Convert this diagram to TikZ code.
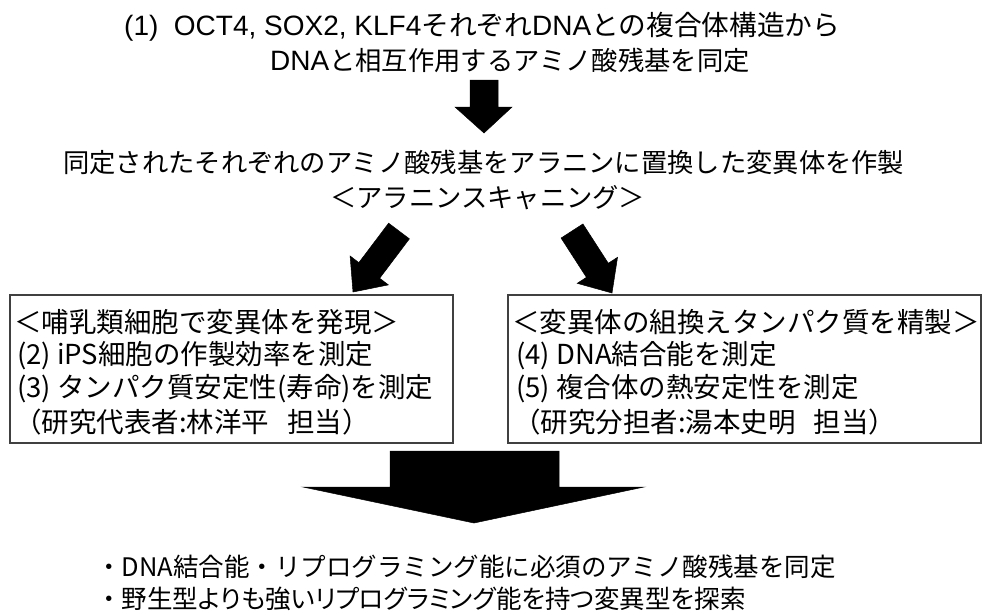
\documentclass[tikz,border=0pt]{standalone}
\usepackage{fontspec}
\setmainfont{Noto Sans CJK JP}
\newfontfamily\latf{Liberation Sans}
\usetikzlibrary{calc}
\tikzset{
  txt/.style={anchor=west, inner sep=0pt, font=\fontsize{26.3}{33}\selectfont},
  boxtxt/.style={anchor=west, inner sep=0pt, font=\fontsize{27.5}{33}\selectfont},
  bottxt/.style={anchor=west, inner sep=0pt, font=\fontsize{25.5}{33}\selectfont},
  blk/.style={fill=black, draw=black, line width=0.5pt, line join=miter},
  boxst/.style={draw=black!75, line width=1.4pt, fill=none}
}
\newcommand{\lt}[1]{{\latf\fontsize{28}{33}\selectfont #1}}
\newcommand{\pk}[1]{{\addfontfeature{RawFeature=+palt}#1}}
\begin{document}
\begin{tikzpicture}[x=1pt,y=-1pt]
\useasboundingbox (0,0) rectangle (982,614);
% top text
\node[txt, font=\fontsize{27.7}{33}\selectfont] (l1) at (124,27) {\lt{(1)\ \ OCT4, SOX2, KLF4}それぞれ\lt{DNA}との複合体構造から};
\node[txt] (l2) at (270,60) {\lt{DNA}と相互作用するアミノ酸残基を同定};
% arrow 1
\fill[blk] (470,80) -- (498,80) -- (498,107) -- (512,107) -- (484,133) -- (455,107) -- (470,107) -- cycle;
% middle text
\node[txt] (l3) at (63,162) {同定されたそれぞれのアミノ酸残基をアラニンに置換した変異体を作製};
\node[txt] (l4) at (330,198) {＜アラニンスキャニング＞};
% diagonal arrows
\coordinate (Ta) at (399,231); \coordinate (Pa) at (353,292);
\coordinate (Tb) at (572,231); \coordinate (Pb) at (612,293);
\foreach \T/\P in {Ta/Pa, Tb/Pb}{
  \coordinate (B) at ($(\P)!27pt!(\T)$);
  \fill[blk] ($(\T)!13pt!90:(\P)$) -- ($(B)!13pt!90:(\P)$) -- ($(B)!24pt!90:(\P)$) -- (\P)
     -- ($(B)!24pt!-90:(\P)$) -- ($(B)!13pt!-90:(\P)$) -- ($(\T)!13pt!-90:(\P)$) -- cycle;
}
% boxes
\draw[boxst] (10,295) rectangle (453,443);
\draw[boxst] (508,295) rectangle (981,443);
\node[boxtxt] (a1) at (14,322) {＜哺乳類細胞で変異体を発現＞};
\node[boxtxt] (a2) at (17,356) {(2) iPS細胞の作製効率を測定};
\node[boxtxt] (a3) at (17,389) {(3) タンパク質安定性(寿命)を測定};
\node[boxtxt] (a4) at (14,422) {（研究代表者:林洋平\hspace{18pt}担当）};
\node[boxtxt] (b1) at (512,322) {＜変異体の組換えタンパク質を精製＞};
\node[boxtxt] (b2) at (516,356) {(4) DNA結合能を測定};
\node[boxtxt] (b3) at (516,389) {(5) 複合体の熱安定性を測定};
\node[boxtxt] (b4) at (513,422) {（研究分担者:湯本史明\hspace{18pt}担当）};
% big arrow
\fill[blk] (390,451) -- (559,451) -- (559,487) -- (644,487) -- (474,523) -- (303,487) -- (390,487) -- cycle;
% bottom text
\node[bottxt] (c1) at (96,567) {・DNA結合能・リプログラミング能に必須のアミノ酸残基を同定};
\node[bottxt] (c2) at (96,599) {・\pk{野生型よりも強いリプログラミング能を持つ変異型を探索}};
\end{tikzpicture}
\end{document}
